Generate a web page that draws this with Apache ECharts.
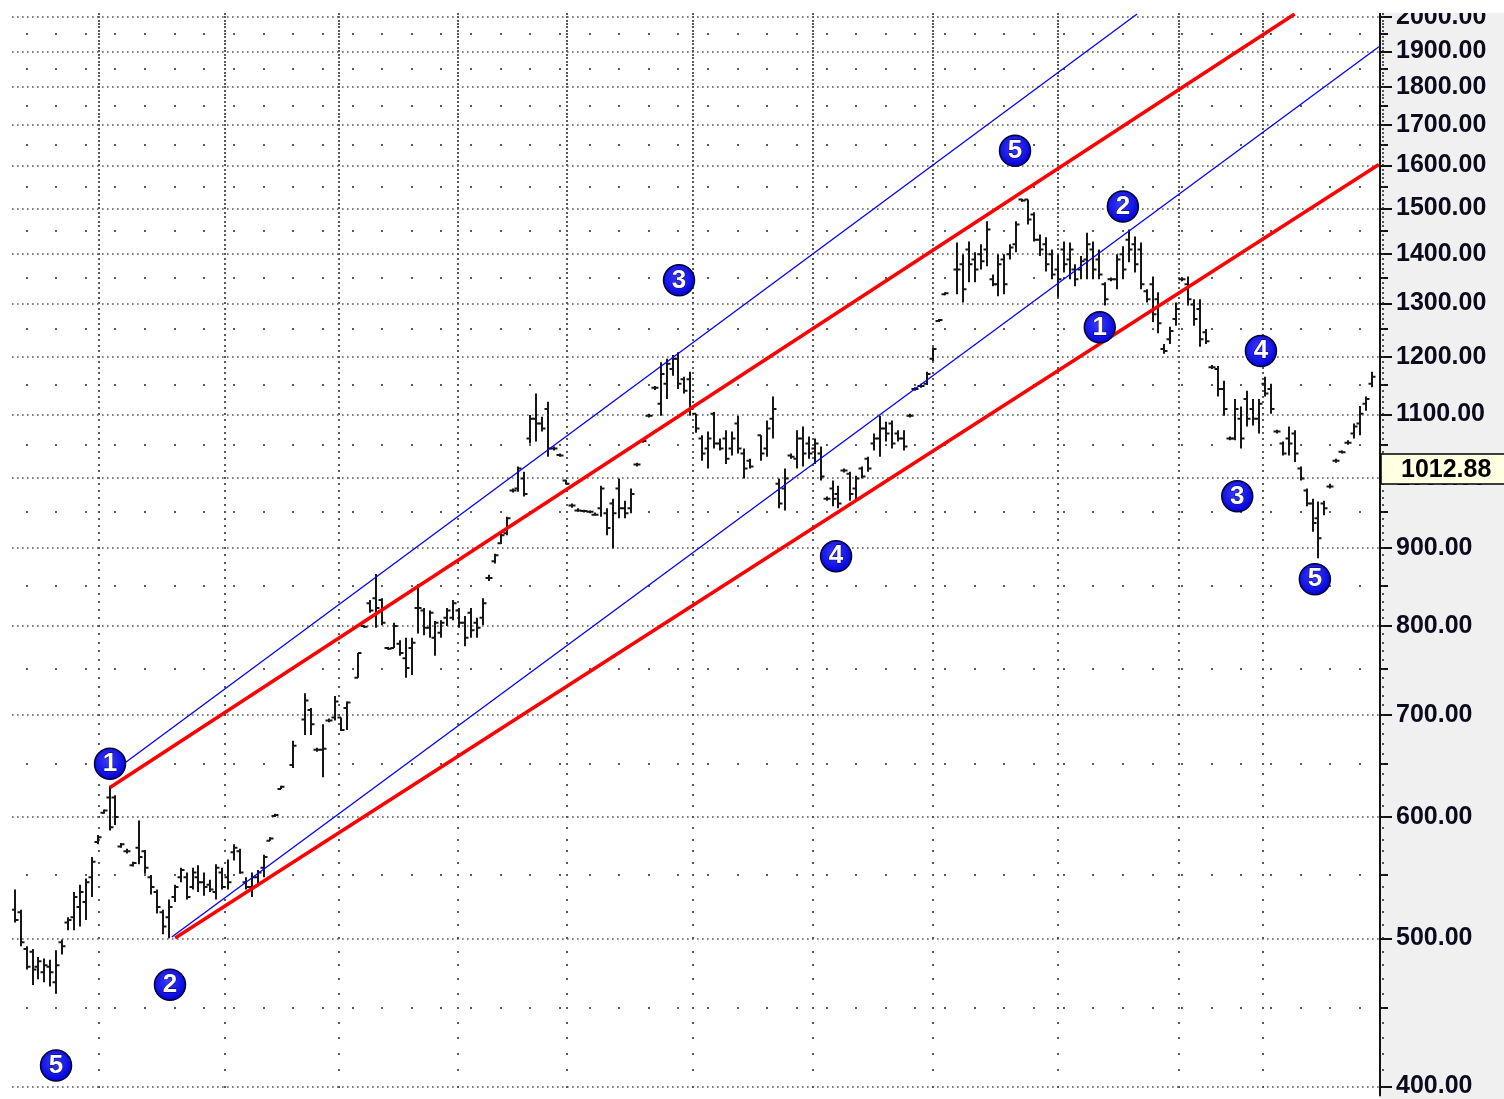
<!DOCTYPE html>
<html>
<head>
<meta charset="utf-8">
<script src="https://cdn.jsdelivr.net/npm/echarts@6/dist/echarts.min.js"></script>
<style>
html,body{margin:0;padding:0;background:#fff;}
#chart{width:1504px;height:1099px;}
</style>
</head>
<body>
<div id="chart"></div>
<script>
// ---- DATA (daily OHLC bars, null = empty slot) ----
const open = [
522,520,492,490,479,475,479,468,497,512,
516,524,528,548,578,604,618,618,574,570,
558,573,570,548,536,520,516,532,548,548,
540,548,544,542,536,552,548,569,570,544,
540,548,556,579,601,626,null,649,null,695,
705,664,664,694,697,697,707,null,740,800,
828,834,832,774,774,779,762,774,822,819,
798,786,792,810,810,819,804,816,804,810,
860,882,906,920,981,984,999,1061,1093,1085,
1109,1045,1035,996,959,952,951,950,946,955,
948,962,984,955,955,1020,1057,1098,1145,1118,
1152,1178,1196,1160,1160,1101,1061,1045,1101,1053,
1061,1045,1085,1037,1026,null,1066,1045,1093,991,
984,1034,1029,1061,1053,1045,1037,969,984,976,
1011,1006,984,1014,1029,1053,1061,1077,1085,1069,
1061,1098,1143,1148,1152,1196,1266,1318,null,1368,
1379,1410,1389,1400,1410,1348,1338,1389,1400,1421,
1520,1520,1486,1431,1421,1400,1368,1410,1389,1368,
1368,1389,1410,1389,1338,1348,1348,1400,1431,1421,
1410,1324,1338,1308,1214,1232,1270,1348,1338,1298,
1289,1245,1181,1178,1143,1061,1061,1093,1126,1109,
1093,1152,1143,1072,1053,1061,1069,1014,981,962,
941,962,987,1026,1040,1054,1069,1085,1118,1152
];
const high = [
538,522,494,492,486,485,484,491,499,516,
536,542,547,565,584,607,629,620,577,572,
561,597,571,550,538,522,530,542,556,552,
556,558,552,546,559,556,563,576,572,548,
552,554,567,582,603,629,null,673,null,723,
707,666,690,696,720,697,714,null,768,801,
832,865,834,775,804,783,786,786,852,822,
819,806,807,822,832,822,812,822,810,834,
864,892,920,943,984,1017,1009,1099,1135,1096,
1121,1048,1037,997,962,955,953,952,949,988,
955,969,999,966,984,1023,1060,1101,1148,1190,
1196,1203,1208,1164,1173,1101,1066,1072,1104,1061,
1074,1072,1098,1045,1029,null,1066,1090,1130,999,
1014,1037,1074,1080,1064,1061,1048,972,996,988,
1014,1009,1003,1017,1032,1069,1098,1088,1090,1074,
1074,1101,1146,1152,1173,1217,1270,1322,null,1425,
1400,1427,1404,1421,1471,1358,1400,1400,1421,1471,
1522,1520,1491,1442,1436,1410,1400,1427,1425,1379,
1396,1446,1427,1410,1342,1352,1400,1417,1453,1438,
1425,1328,1354,1322,1223,1255,1302,1352,1354,1308,
1308,1251,1185,1183,1157,1064,1126,1113,1140,1126,
1126,1164,1152,1075,1056,1080,1074,1017,984,969,
965,966,991,1029,1042,1058,1085,1114,1130,1173
];
const low = [
512,494,477,466,470,468,465,460,488,506,
506,509,514,532,576,603,588,593,573,568,
557,559,551,534,519,503,500,528,544,530,
538,536,533,536,530,538,538,562,551,538,
532,542,548,579,600,626,null,646,null,679,
679,662,637,692,694,683,684,null,740,798,
816,798,801,772,774,765,740,743,791,789,
786,765,786,800,807,798,776,786,786,801,
856,879,905,917,978,979,972,1053,1056,1072,
1032,1042,1032,990,956,950,949,948,945,943,
917,899,941,941,948,1017,1054,1095,1141,1098,
1126,1166,1143,1135,1098,1070,1026,1014,1045,1042,
1021,1034,1037,999,1014,null,1026,1032,1061,955,
952,1029,1014,1017,1029,1021,996,966,958,955,
1008,966,965,999,1009,1042,1032,1056,1045,1056,
1042,1095,1140,1145,1150,1192,1264,1316,null,1318,
1302,1342,1342,1368,1375,1334,1314,1318,1389,1404,
1515,1464,1427,1396,1364,1348,1312,1362,1348,1334,
1348,1348,1348,1348,1296,1344,1328,1348,1383,1362,
1328,1302,1264,1243,1205,1223,1257,1344,1296,1257,
1218,1223,1178,1130,1098,1058,1058,1045,1080,1082,
1069,1130,1101,1069,1034,1034,1024,996,958,922,
886,945,984,1023,1037,1051,1061,1066,1106,1146
];
const close = [
514,497,479,477,483,480,475,480,494,514,
532,536,544,561,582,606,591,600,576,570,
560,565,556,540,524,509,524,540,554,532,
552,544,540,538,556,540,544,573,552,540,
548,552,565,581,602,628,null,668,null,715,
690,664,665,694,714,684,713,null,768,799,
819,822,804,773,800,768,751,780,822,798,
816,804,804,819,828,804,786,795,798,828,
860,890,917,941,981,1014,976,1093,1085,1077,
1045,1045,1034,991,959,952,951,950,946,984,
927,948,955,948,976,1020,1057,1098,1145,1169,
1187,1196,1152,1140,1109,1077,1037,1061,1053,1045,
1029,1061,1045,1014,1017,null,1037,1077,1109,962,
999,1032,1061,1037,1037,1053,1002,969,969,962,
1011,976,999,1002,1014,1061,1077,1069,1053,1061,
1048,1098,1143,1148,1169,1214,1268,1320,null,1368,
1328,1379,1368,1385,1453,1338,1379,1338,1414,1464,
1518,1475,1431,1410,1379,1358,1348,1379,1410,1348,
1385,1421,1368,1358,1308,1348,1389,1368,1410,1379,
1338,1308,1279,1262,1210,1247,1289,1348,1308,1270,
1232,1228,1181,1143,1109,1061,1109,1061,1093,1093,
1118,1135,1109,1072,1037,1053,1037,999,962,934,
913,955,987,1026,1039,1054,1080,1101,1126,1164
];

// Elliott wave labels: bar position, price level, text
const waveText  = ['5','1','2','3','4','5','1','2','3','4','5'];
const waveBar   = [6.97, 16.08, 26.2, 112.1, 138.6, 168.8, 183.1, 187.0, 206.3, 210.3, 219.4];
const wavePrice = [412.8, 650.3, 466.2, 1346, 888.5, 1636, 1254, 1504, 972.4, 1210, 858.3];

// Channel lines: [bar, price] endpoints
const redUpper  = [[16.08, 627.3], [216.0, 2010]];
const redLower  = [[27.07, 500.2], [230.2, 1602.6]];
const blueUpper = [[16.4, 641.6], [189.4, 2010]];
const blueLower = [[26.5, 501.0], [230.2, 1913]];

const lastPrice = 1012.88;

// Axis ticks
const priceTicks = [400,500,600,700,800,900,1000,1100,1200,1300,1400,1500,1600,1700,1800,1900,2000];
const halfTicks  = [450,550,650,750,850,950,1050,1150,1250,1350,1450,1550,1650,1750,1850,1950];
const fineTicks = [];
for (let v = 400; v <= 2010; v += 10) fineTicks.push(v);
const monthTicks = [14.2, 35.5, 54.7, 74.8, 93.2, 114.5, 134.7, 154.9, 176.1, 196.5, 210.6];
const weekTicks = [];
for (let w = 2.0; w < 231; w += 5) weekTicks.push(w);

// ---- layout constants ----
const X_MIN = -0.46, X_MAX = 230.39;
const Y_MIN = 394.6, Y_MAX = 2012.8;
const FONT = "'Liberation Sans', Arial, sans-serif";

const ohlcData = [];
for (let i = 0; i < open.length; i++) {
  if (open[i] == null) continue;
  ohlcData.push([i, open[i], high[i], low[i], close[i]]);
}
const waveData = waveText.map((t, i) => ({ value: [waveBar[i], wavePrice[i]], name: t }));

function renderOHLC(params, api) {
  const x = api.value(0);
  const pH = api.coord([x, api.value(2)]);
  const pL = api.coord([x, api.value(3)]);
  const pO = api.coord([x, api.value(1)]);
  const pC = api.coord([x, api.value(4)]);
  const cx = Math.round(pH[0]);
  let y1 = pH[1], y2 = pL[1];
  if (y2 - y1 < 2) { const m = (y1 + y2) / 2; y1 = m - 1; y2 = m + 1; }
  const st = { stroke: '#161616', lineWidth: 2 };
  return {
    type: 'group',
    children: [
      { type: 'line', shape: { x1: cx, y1: y1, x2: cx, y2: y2 }, style: st },
      { type: 'line', shape: { x1: cx - 3.5, y1: pO[1], x2: cx, y2: pO[1] }, style: st },
      { type: 'line', shape: { x1: cx, y1: pC[1], x2: cx + 3.5, y2: pC[1] }, style: st }
    ]
  };
}

// dotted lattice of the plot area (month columns x every 10, week columns x half levels)
function renderLattice(params, api) {
  const kids = [];
  const dot = (x, v) => {
    const p = api.coord([x, v]);
    kids.push({ type: 'rect', shape: { x: Math.round(p[0]) - 1, y: Math.round(p[1]) - 1, width: 2, height: 2 }, style: { fill: '#5a5a5a' } });
  };
  monthTicks.forEach(m => fineTicks.forEach(v => dot(m, v)));
  weekTicks.forEach(w => halfTicks.forEach(v => dot(w, v)));
  return { type: 'group', children: kids };
}

// secondary ticks on the price axis (half levels and every 10)
function renderAxisTicks(params, api) {
  const kids = [];
  halfTicks.forEach(v => {
    const p = api.coord([X_MAX, v]);
    kids.push({ type: 'line', shape: { x1: p[0] + 1, y1: Math.round(p[1]), x2: p[0] + 8, y2: Math.round(p[1]) }, style: { stroke: '#111', lineWidth: 2 } });
  });
  fineTicks.forEach(v => {
    const p = api.coord([X_MAX, v]);
    kids.push({ type: 'rect', shape: { x: p[0] + 2, y: Math.round(p[1]) - 0.8, width: 2, height: 1.6 }, style: { fill: '#222' } });
  });
  return { type: 'group', children: kids };
}

const chart = echarts.init(document.getElementById('chart'), null, { renderer: 'canvas' });

const baseGraphics = [
  { id: 'panel', type: 'rect', z: -10, silent: true, shape: { x: 1380, y: 13, width: 124, height: 1086 }, style: { fill: '#f0f0f0' } },
  { id: 'topstrip', type: 'rect', z: 100, silent: true, shape: { x: 0, y: 0, width: 1504, height: 13 }, style: { fill: '#ffffff' } }
];

chart.setOption({
  animation: false,
  backgroundColor: '#ffffff',
  grid: { left: 12, right: 124, top: 13, bottom: 0, containLabel: false },
  xAxis: { type: 'value', min: X_MIN, max: X_MAX, show: false },
  yAxis: {
    type: 'log', logBase: 10, position: 'right', min: Y_MIN, max: Y_MAX,
    axisLine: { show: true, onZero: false, lineStyle: { color: '#111', width: 2 } },
    axisTick: { show: true, customValues: priceTicks, length: 12, lineStyle: { color: '#111', width: 2 } },
    axisLabel: { show: true, customValues: priceTicks, margin: 16, fontSize: 25, fontWeight: 'bold', fontFamily: FONT, color: '#0b0b1e',
      formatter: v => Number(v).toFixed(2) },
    splitLine: { show: true, lineStyle: { color: '#555', width: 1.6, type: [1.6, 3.4] } },
    minorTick: { show: false }, minorSplitLine: { show: false }
  },
  graphic: baseGraphics,
  series: [
    { type: 'custom', name: 'grid', renderItem: renderLattice, data: [[0, 1000]], clip: true, silent: true, z: 1 },
    { type: 'custom', name: 'axisTicks', renderItem: renderAxisTicks, data: [[0, 1000]], clip: false, silent: true, z: 1 },
    { type: 'custom', name: 'bars', renderItem: renderOHLC, data: ohlcData, encode: { x: 0, y: [1, 2, 3, 4] }, clip: true, silent: true, z: 3 },
    { type: 'line', data: blueUpper, showSymbol: false, symbol: 'none', lineStyle: { color: '#0000ff', width: 1.3 }, z: 4, silent: true },
    { type: 'line', data: blueLower, showSymbol: false, symbol: 'none', lineStyle: { color: '#0000ff', width: 1.3 }, z: 4, silent: true },
    { type: 'line', data: redUpper, showSymbol: false, symbol: 'none', lineStyle: { color: '#ff0000', width: 3.5 }, z: 5, silent: true },
    { type: 'line', data: redLower, showSymbol: false, symbol: 'none', lineStyle: { color: '#ff0000', width: 3.5 }, z: 5, silent: true },
    { type: 'scatter', data: waveData, symbol: 'circle', symbolSize: 31, z: 6, silent: true,
      itemStyle: {
        color: { type: 'radial', x: 0.45, y: 0.4, r: 0.6, colorStops: [{ offset: 0, color: '#3c3cff' }, { offset: 1, color: '#0000d8' }] },
        borderColor: '#000033', borderWidth: 1.5, opacity: 1
      },
      label: { show: true, position: 'inside', formatter: p => p.name, color: '#ffffff', fontSize: 26, fontWeight: 'bold', fontFamily: FONT,
        textBorderColor: '#000050', textBorderWidth: 1 } }
  ]
});

// current-price marker on the price axis, positioned through the axis scale
const py = chart.convertToPixel({ yAxisIndex: 0 }, lastPrice);
chart.setOption({
  graphic: baseGraphics.concat([
    { id: 'lastBox', type: 'rect', z: 50, silent: true, shape: { x: 1381, y: Math.round(py) - 15, width: 130, height: 30 },
      style: { fill: '#ffffe1', stroke: '#000', lineWidth: 1.5 } },
    { id: 'lastText', type: 'text', z: 51, silent: true, x: 1401, y: py + 1,
      style: { text: lastPrice.toFixed(2), fontSize: 25, fontWeight: 'bold', fontFamily: FONT, fill: '#000', verticalAlign: 'middle', align: 'left' } }
  ])
});
</script>
</body>
</html>
